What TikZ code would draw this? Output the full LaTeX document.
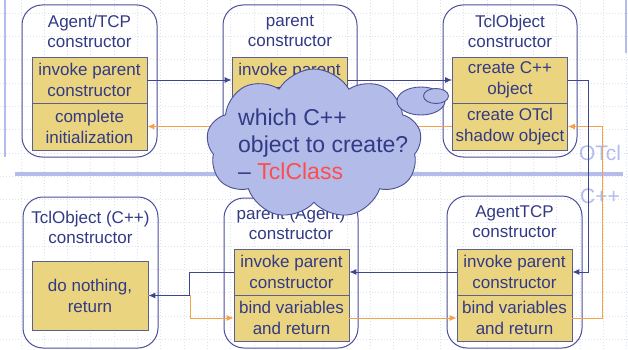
\documentclass[tikz,border=0pt]{standalone}
\usepackage{fontspec}
\setmainfont{Liberation Sans}
\usetikzlibrary{shapes.symbols,shapes.geometric,arrows.meta}
\definecolor{navyline}{HTML}{4B4F99}
\definecolor{rowline}{HTML}{5C6090}
\definecolor{rowyellow}{HTML}{EAD47F}
\definecolor{inktext}{HTML}{323A86}
\definecolor{flownavy}{HTML}{3F4591}
\definecolor{floworange}{HTML}{F7A04A}
\definecolor{cloudfill}{HTML}{B3BBE8}
\definecolor{cloudline}{HTML}{4A5096}
\definecolor{paleblue}{HTML}{B4BCEB}
\definecolor{gridtint}{HTML}{DCE1F2}
\definecolor{tclred}{HTML}{FF4D4D}
\begin{document}
\begin{tikzpicture}[x=1pt,y=-1pt]
\tikzset{
  outerbox/.style={rectangle, draw=navyline, line width=1pt, rounded corners=20pt, inner sep=0pt},
  rowbox/.style={rectangle, draw=rowline, line width=0.8pt, fill=rowyellow, text=inktext,
    align=center, inner sep=0pt, minimum width=115pt, font=\fontsize{17}{21}\selectfont},
  boxtitle/.style={text=inktext, align=center, inner sep=0pt, font=\fontsize{17}{20}\selectfont},
  callflow/.style={draw=flownavy, line width=0.9pt, -{Latex[length=7pt,width=6pt]}},
  retflow/.style={draw=floworange, line width=0.9pt, -{Latex[length=7pt,width=6pt]}},
  layerlabel/.style={text=paleblue, inner sep=0pt, font=\fontsize{21}{21}\selectfont},
}
\useasboundingbox (0,0) rectangle (628,350);
\fill[white] (0,0) rectangle (628,350);

% faint dotted background grid
\foreach \k in {0,...,26} {
  \draw[gridtint, line width=0.5pt, dash pattern=on 1pt off 2pt] (20.8+23.3*\k,0) -- (20.8+23.3*\k,350);
}
\foreach \k in {0,...,14} {
  \draw[gridtint, line width=0.5pt, dash pattern=on 1pt off 2pt] (0,13+23.3*\k) -- (628,13+23.3*\k);
}

% side bars and the OTcl / C++ divide
\draw[paleblue, line width=2pt] (5,0) -- (5,157);
\draw[paleblue, line width=2pt] (626,0) -- (626,53);
\draw[paleblue, line width=4pt] (15,174) -- (623,174);
\node[layerlabel] (otcl) at (600,153) {OTcl};
\node[layerlabel] (cpp) at (600,196) {C++};

% OTcl side constructors
\node[outerbox, minimum width=135pt, minimum height=152pt] (agentbox) at (89.5,81) {};
\node[boxtitle] (agenttitle) at (89.5,31) {Agent/TCP\\constructor};
\node[rowbox, minimum height=46pt] (a1) at (89.5,80) {invoke parent\\constructor};
\node[rowbox, minimum height=47pt] (a2) at (89.5,126.5) {complete\\initialization};

\node[outerbox, minimum width=134pt, minimum height=152pt] (parentbox) at (290,81) {};
\node[boxtitle] (parenttitle) at (290,31) {parent\\constructor};
\node[rowbox, minimum height=46pt] (b1) at (289.5,80) {invoke parent\\constructor};
\node[rowbox, minimum height=47pt] (b2) at (289.5,126.5) {};

\node[outerbox, minimum width=134pt, minimum height=152pt] (tclbox) at (510,81) {};
\node[boxtitle] (tcltitle) at (510,31) {TclObject\\constructor};
\node[rowbox, minimum height=46pt] (c1) at (510,80) {create C++\\object};
\node[rowbox, minimum height=47pt] (c2) at (510,126.5) {create OTcl\\shadow object};

% C++ side constructors
\node[outerbox, minimum width=135pt, minimum height=151pt] (cobjbox) at (90.5,272.5) {};
\node[boxtitle] (cobjtitle) at (90.5,227) {TclObject (C++)\\constructor};
\node[rowbox, minimum height=69pt, minimum width=116pt] (d) at (90,295.5) {do nothing,\\return};

\node[outerbox, minimum width=134pt, minimum height=150pt] (cagentbox) at (291,273) {};
\node[boxtitle] (cagenttitle) at (291,223) {parent (Agent)\\constructor};
\node[rowbox, minimum height=46pt] (e1) at (291.5,272) {invoke parent\\constructor};
\node[rowbox, minimum height=46pt] (e2) at (291.5,318) {bind variables\\and return};

\node[outerbox, minimum width=135pt, minimum height=152pt] (ctcpbox) at (514.5,272) {};
\node[boxtitle] (ctcptitle) at (514.5,222) {AgentTCP\\constructor};
\node[rowbox, minimum height=46pt] (f1) at (514.5,272) {invoke parent\\constructor};
\node[rowbox, minimum height=46pt] (f2) at (514.5,318) {bind variables\\and return};

% constructor calls (navy) and returns (orange)
\draw[retflow] (d.east) -- ++(42,0) |- (e2.west);
\draw[retflow] (e2.east) -- (f2.west);
\draw[retflow] (f2.east) -- ++(30,0) |- (c2.east);
\draw[retflow] (c2.west) -- (a2.east);

\draw[callflow] (a1.east) -- (b1.west);
\draw[callflow] (b1.east) -- (c1.west);
\draw[callflow] (c1.east) -- ++(21,0) |- (f1.east);
\draw[callflow] (f1.west) -- (e1.east);
\draw[callflow] (e1.west) -- ++(-44,0) |- (d.east);

% thought cloud
\node[cloud, cloud puffs=9, cloud puff arc=120, aspect=1.4, draw=cloudline, fill=cloudfill,
  line width=0.9pt, minimum width=215pt, minimum height=150pt, inner sep=0pt] (cloud) at (314,144) {};
\node[ellipse, draw=cloudline, fill=cloudfill, line width=0.9pt, minimum width=48pt, minimum height=28pt, inner sep=0pt] (bubble) at (421,101) {};
\node[ellipse, draw=cloudline, fill=cloudfill, line width=0.9pt, minimum width=25pt, minimum height=15pt, inner sep=0pt] (bubblesmall) at (436,96) {};
\node[anchor=west, align=left, text=inktext, inner sep=0pt, font=\fontsize{23}{27}\selectfont] (cloudtext) at (238,144)
  {which C++\\object to create?\\– {\color{tclred}TclClass}};
\end{tikzpicture}
\end{document}
